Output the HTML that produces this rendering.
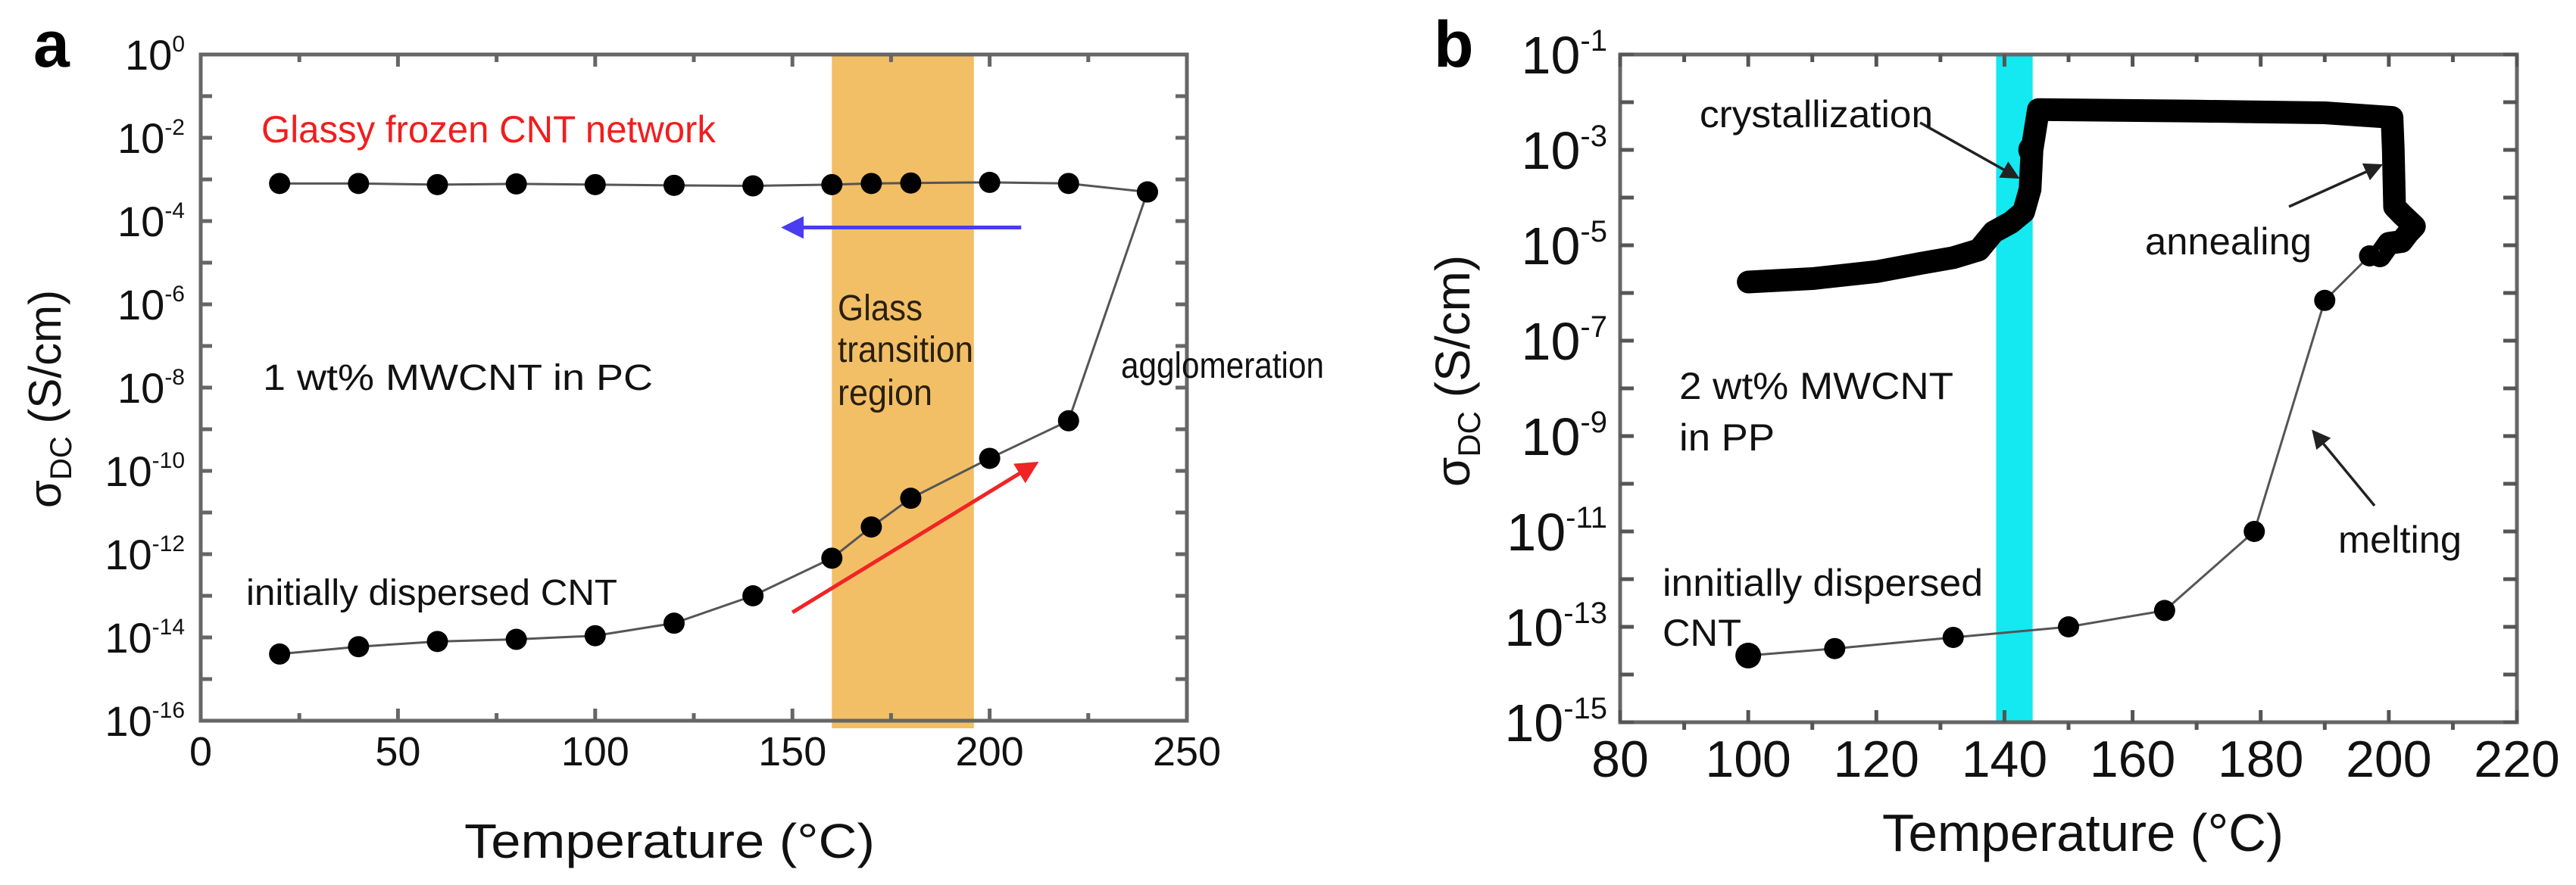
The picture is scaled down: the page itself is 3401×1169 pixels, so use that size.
<!DOCTYPE html>
<html><head><meta charset="utf-8"><style>
html,body{margin:0;padding:0;background:#fff;}
svg{display:block;font-family:"Liberation Sans",Arial,sans-serif;}
</style></head><body>
<svg id="fig" width="3401" height="1169" viewBox="0 0 3401 1169" xmlns="http://www.w3.org/2000/svg">
<defs>
<marker id="ahBlue" markerWidth="6" markerHeight="6" refX="3" refY="3" orient="auto" markerUnits="strokeWidth"><path d="M0,0 L6,3 L0,6 z" fill="#4a3cf0"/></marker>
<marker id="ahRed" markerWidth="6" markerHeight="6" refX="3" refY="3" orient="auto" markerUnits="strokeWidth"><path d="M0,0 L6,3 L0,6 z" fill="#f02424"/></marker>
<marker id="ahBlack" markerWidth="7" markerHeight="7" refX="3.5" refY="3.5" orient="auto" markerUnits="strokeWidth"><path d="M0,0 L7,3.5 L0,7 z" fill="#222"/></marker>
</defs>
<g id="panelA"></g>
<g id="panelB"></g>
</svg>
<script>
// ---------- Panel a data ----------
const aUpperT = [20,40,60,80,100,120,140,160,170,180,200,220,240];
const aUpperS = [8e-4,8e-4,7.5e-4,7.8e-4,7.5e-4,7.2e-4,7e-4,7.5e-4,8e-4,8.2e-4,8.5e-4,8e-4,5e-4];
const aLowerT = [20,40,60,80,100,120,140,160,170,180,200,220,240];
const aLowerS = [4e-15,6e-15,8e-15,9e-15,1.1e-14,2.2e-14,1e-13,8e-13,4.5e-12,2.2e-11,2e-10,1.6e-9,5e-4];
const aXTicks = [0,50,100,150,200,250];
const aYExps = [0,-2,-4,-6,-8,-10,-12,-14,-16];
const aGlass = [160,196];
// ---------- Panel b data ----------
const bMeltT = [100,113.5,132,150,165,179,190,197,200];
const bMeltS = [2.5e-14,3.5e-14,6e-14,1e-13,2.2e-13,1e-11,7e-7,6e-6,1e-5];
const bAnnealT = [100,110,120,127,132,136,138.3,141,143,144,144.3,145.3,170,190,200.5,200.7,200.9,202,204,203,202,200,198.6];
const bAnnealS = [1.7e-6,2e-6,2.8e-6,4.2e-6,5.5e-6,8e-6,1.9e-5,3e-5,5e-5,1.5e-4,1e-3,7e-3,6.5e-3,6e-3,4.8e-3,1e-3,6.4e-5,4.5e-5,2.5e-5,1.8e-5,1.2e-5,1.1e-5,6e-6];
const bCrystT = [143.7];
const bCrystS = [1e-3];
const bXTicks = [80,100,120,140,160,180,200,220];
const bYExps = [-1,-3,-5,-7,-9,-11,-13,-15];
const bCyan = [138.7,144.4];

const NS='http://www.w3.org/2000/svg';
function el(parent, tag, attrs, text){
  const e=document.createElementNS(NS,tag);
  for(const k in attrs) e.setAttribute(k,attrs[k]);
  if(text!==undefined) e.textContent=text;
  parent.appendChild(e); return e;
}
function mkAxes(cfg){
  const x = t => cfg.L + (t-cfg.x0)/(cfg.x1-cfg.x0)*(cfg.R-cfg.L);
  const y = s => cfg.T + (cfg.e0 - Math.log10(s))/(cfg.e0-cfg.e1)*(cfg.B-cfg.T);
  return {x,y};
}
// ================= PANEL A =================
(function(){
  const g=document.getElementById('panelA');
  const cfg={L:265,R:1567,T:72,B:952,x0:0,x1:250,e0:0,e1:-16};
  const {x,y}=mkAxes(cfg);
  // glass band
  const band=el(g,'rect',{x:x(aGlass[0]),y:cfg.T,width:x(aGlass[1])-x(aGlass[0]),height:cfg.B-cfg.T+10,fill:'#f2bf66'});
  
  
  // frame
  const fr=el(g,'rect',{x:cfg.L,y:cfg.T,width:cfg.R-cfg.L,height:cfg.B-cfg.T,fill:'none',stroke:'#666',"stroke-width":5});
  
  
  // x ticks
  for(let t=0;t<=250;t+=25){
    const len = (t%50===0)?16:10;
    el(g,'line',{x1:x(t),x2:x(t),y1:cfg.B,y2:cfg.B-len,stroke:'#666',"stroke-width":5});
    el(g,'line',{x1:x(t),x2:x(t),y1:cfg.T,y2:cfg.T+len,stroke:'#666',"stroke-width":5});
  }
  aXTicks.forEach(t=>{
    const tx=el(g,'text',{x:x(t),y:1011,"font-size":54,"text-anchor":"middle",fill:'#111'},String(t));
    
    
  });
  // y ticks
  for(let e=0;e>=-16;e--){
    const yy=y(Math.pow(10,e));
    el(g,'line',{x1:cfg.L,x2:cfg.L+15,y1:yy,y2:yy,stroke:'#666',"stroke-width":5});
    el(g,'line',{x1:cfg.R,x2:cfg.R-15,y1:yy,y2:yy,stroke:'#666',"stroke-width":5});
  }
  aYExps.forEach(e=>{
    const tx=el(g,'text',{x:244,y:y(Math.pow(10,e))+20,"font-size":56,"text-anchor":"end",fill:'#111'});
    
    
    const t1=el(tx,'tspan',{},'10');
    const t2=el(tx,'tspan',{dy:-24,"font-size":30},String(e));
  });
  // series lines
  const up=el(g,'polyline',{points:aUpperT.map((t,i)=>x(t)+','+y(aUpperS[i])).join(' '),fill:'none',stroke:'#555',"stroke-width":3});
  
  
  const lo=el(g,'polyline',{points:aLowerT.map((t,i)=>x(t)+','+y(aLowerS[i])).join(' '),fill:'none',stroke:'#555',"stroke-width":3});
  
  
  aUpperT.forEach((t,i)=>{
    const c=el(g,'circle',{cx:x(t),cy:y(aUpperS[i]),r:14,fill:'#000'});
    
    
  });
  aLowerT.forEach((t,i)=>{
    const c=el(g,'circle',{cx:x(t),cy:y(aLowerS[i]),r:14,fill:'#000'});
    
    
  });
  // arrows
  const ba=el(g,'line',{x1:x(208),y1:y(7e-5),x2:x(150),y2:y(7e-5),stroke:'#4a3cf0',"stroke-width":5,"marker-end":"url(#ahBlue)"});
  
  
  const ra=el(g,'line',{x1:x(150),y1:y(4e-14),x2:x(210),y2:y(1.2e-10),stroke:'#f02424',"stroke-width":5,"marker-end":"url(#ahRed)"});
  
  
  // labels
  const lab=(txt,xx,yy,len,name,fill,fs)=>{
    const t=el(g,'text',{x:xx,y:yy,"font-size":fs||48,fill:fill||'#111',textLength:len,lengthAdjust:'spacingAndGlyphs'},txt);
    
    
  };
  lab('Glassy frozen CNT network',345,188,600,'glassy-network-label','#f01e1e',50);
  lab('1 wt% MWCNT in PC',347,515,515,'sample-label-a');
  lab('Glass',1106,423,112,'glass-label-1','#2a2010');
  lab('transition',1106,478,179,'glass-label-2','#2a2010');
  lab('region',1106,535,125,'glass-label-3','#2a2010');
  lab('agglomeration',1480,499,268,'agglomeration-label');
  lab('initially dispersed CNT',325,799,490,'dispersed-label-a');
  // axis titles
  const xt=el(g,'text',{x:884,y:1133,"font-size":64,"text-anchor":"middle",fill:'#111',textLength:542,lengthAdjust:'spacingAndGlyphs'},'Temperature (°C)');
  
  
  const yt=el(g,'text',{x:0,y:0,"font-size":60,"text-anchor":"middle",fill:'#111',transform:'translate(80,527) rotate(-90)'});
  
  
  el(yt,'tspan',{},'σ');
  el(yt,'tspan',{dy:14,"font-size":40},'DC');
  el(yt,'tspan',{dy:-14},' (S/cm)');
  const pl=el(g,'text',{x:44,y:88,"font-size":86,"font-weight":"bold",fill:'#000'},'a');
  
  
})();
// ================= PANEL B =================
(function(){
  const g=document.getElementById('panelB');
  const cfg={L:2139,R:3323,T:72,B:954,x0:80,x1:220,e0:-1,e1:-15};
  const {x,y}=mkAxes(cfg);
  const band=el(g,'rect',{x:x(bCyan[0]),y:cfg.T,width:x(bCyan[1])-x(bCyan[0]),height:cfg.B-cfg.T,fill:'#14e8f0'});
  
  
  const fr=el(g,'rect',{x:cfg.L,y:cfg.T,width:cfg.R-cfg.L,height:cfg.B-cfg.T,fill:'none',stroke:'#666',"stroke-width":5});
  
  
  for(let t=80;t<=220;t+=10){
    const major=(t%20===0);
    if(major){
      el(g,'line',{x1:x(t),x2:x(t),y1:cfg.B,y2:cfg.B-16,stroke:'#555',"stroke-width":5});
      el(g,'line',{x1:x(t),x2:x(t),y1:cfg.T,y2:cfg.T+16,stroke:'#555',"stroke-width":5});
    } else {
      el(g,'line',{x1:x(t),x2:x(t),y1:cfg.B,y2:cfg.B+10,stroke:'#555',"stroke-width":5});
      el(g,'line',{x1:x(t),x2:x(t),y1:cfg.T,y2:cfg.T+10,stroke:'#555',"stroke-width":5});
    }
  }
  bXTicks.forEach(t=>{
    const tx=el(g,'text',{x:x(t),y:1026,"font-size":68,"text-anchor":"middle",fill:'#111'},String(t));
    
    
  });
  for(let e=-1;e>=-15;e--){
    const yy=y(Math.pow(10,e));
    el(g,'line',{x1:cfg.L,x2:cfg.L+18,y1:yy,y2:yy,stroke:'#555',"stroke-width":5});
    el(g,'line',{x1:cfg.R,x2:cfg.R-18,y1:yy,y2:yy,stroke:'#555',"stroke-width":5});
  }
  bYExps.forEach(e=>{
    const tx=el(g,'text',{x:2122,y:y(Math.pow(10,e))+25,"font-size":70,"text-anchor":"end",fill:'#111'});
    
    
    el(tx,'tspan',{},'10');
    el(tx,'tspan',{dy:-30,"font-size":40},String(e));
  });
  // annealing thick curve
  const an=el(g,'polyline',{points:bAnnealT.map((t,i)=>x(t)+','+y(bAnnealS[i])).join(' '),fill:'none',stroke:'#000',"stroke-width":30,"stroke-linejoin":"round","stroke-linecap":"round"});
  
  
  // melting thin line
  const ml=el(g,'polyline',{points:bMeltT.map((t,i)=>x(t)+','+y(bMeltS[i])).join(' '),fill:'none',stroke:'#555',"stroke-width":3});
  
  
  bMeltT.forEach((t,i)=>{
    const c=el(g,'circle',{cx:x(t),cy:y(bMeltS[i]),r:i===0?17:14,fill:'#000'});
    
    
  });
  bCrystT.forEach((t,i)=>{
    const c=el(g,'ellipse',{cx:x(t),cy:y(bCrystS[i]),rx:13,ry:16,fill:'#000'});
    
    
  });
  // annotation arrows
  const arr=(x1,y1,x2,y2,name)=>{
    const l=el(g,'line',{x1,y1,x2,y2,stroke:'#222',"stroke-width":3.5,"marker-end":"url(#ahBlack)"});
    
    
  };
  arr(2535,162,2656,230,'crystallization-arrow');
  arr(3022,273,3135,222,'annealing-arrow');
  arr(3135,668,3060,577,'melting-arrow');
  const lab=(txt,xx,yy,len,name)=>{
    const t=el(g,'text',{x:xx,y:yy,"font-size":50,fill:'#111',textLength:len,lengthAdjust:'spacingAndGlyphs'},txt);
    
    
  };
  lab('crystallization',2244,168,308,'crystallization-label');
  lab('annealing',2832,336,220,'annealing-label');
  lab('melting',3087,730,163,'melting-label');
  lab('2 wt% MWCNT',2217,527,362,'sample-label-b-1');
  lab('in PP',2217,595,126,'sample-label-b-2');
  lab('innitially dispersed',2195,787,423,'dispersed-label-b-1');
  lab('CNT',2195,853,104,'dispersed-label-b-2');
  const xt=el(g,'text',{x:2750,y:1124,"font-size":70,"text-anchor":"middle",fill:'#111',textLength:530,lengthAdjust:'spacingAndGlyphs'},'Temperature (°C)');
  
  
  const yt=el(g,'text',{x:0,y:0,"font-size":64,"text-anchor":"middle",fill:'#111',transform:'translate(1940,490) rotate(-90)'});
  
  
  el(yt,'tspan',{},'σ');
  el(yt,'tspan',{dy:14,"font-size":42},'DC');
  el(yt,'tspan',{dy:-14},' (S/cm)');
  const pl=el(g,'text',{x:1893,y:88,"font-size":86,"font-weight":"bold",fill:'#000'},'b');
  
  
})();
</script>
</body></html>
